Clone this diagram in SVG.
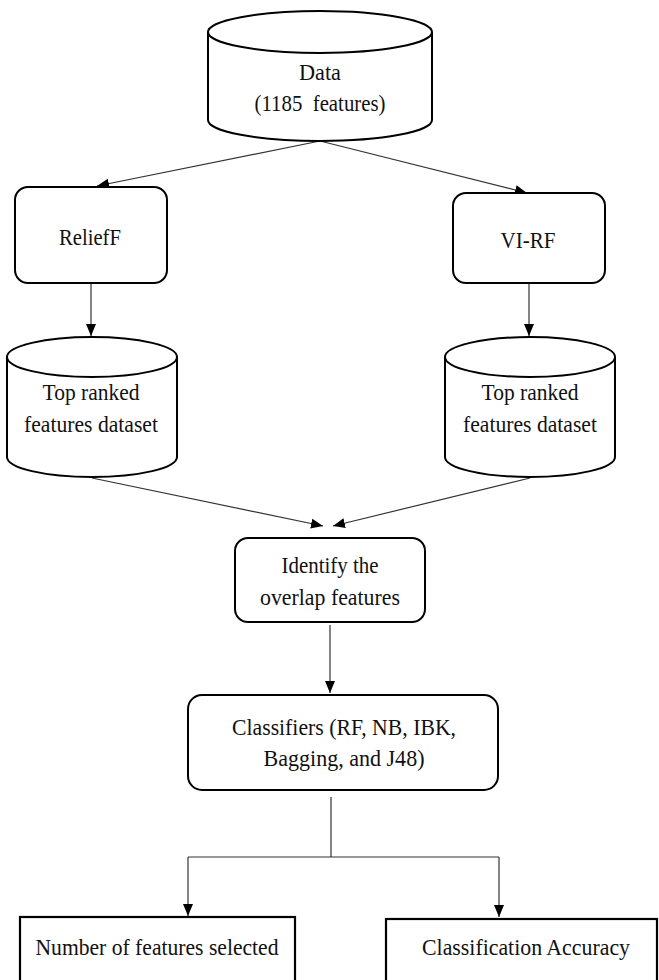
<svg xmlns="http://www.w3.org/2000/svg" width="659" height="980" viewBox="0 0 659 980">
<style>
.shape{fill:#fff;stroke:#000;stroke-width:2}
.box{fill:#fff;stroke:#000;stroke-width:2.2}
.t{font-family:"Liberation Serif","Times New Roman",serif;font-size:23px;fill:#111;text-anchor:middle}
.c{fill:none;stroke:#333;stroke-width:1.2}
</style>
<defs>
<marker id="ah" markerUnits="userSpaceOnUse" markerWidth="12" markerHeight="12" viewBox="0 0 12 12" refX="12" refY="6" orient="auto">
<path d="M0,1 L12,6 L0,11 z" fill="#000"/>
</marker>
</defs>
<rect width="659" height="980" fill="#fff"/>
<g id="connectors">
<line class="c" x1="320" y1="141" x2="97" y2="186" marker-end="url(#ah)"/>
<line class="c" x1="320" y1="141" x2="527" y2="193" marker-end="url(#ah)"/>
<line class="c" x1="91" y1="284" x2="91" y2="336" marker-end="url(#ah)"/>
<line class="c" x1="529" y1="284" x2="529" y2="336" marker-end="url(#ah)"/>
<line class="c" x1="92" y1="478" x2="323" y2="526" marker-end="url(#ah)"/>
<line class="c" x1="530" y1="478" x2="333" y2="526" marker-end="url(#ah)"/>
<line class="c" x1="330" y1="625" x2="330" y2="693" marker-end="url(#ah)"/>
<line class="c" x1="331" y1="797" x2="331" y2="857"/>
<line class="c" x1="188" y1="857" x2="499" y2="857"/>
<line class="c" x1="188" y1="857" x2="188" y2="916" marker-end="url(#ah)"/>
<line class="c" x1="499" y1="857" x2="499" y2="917" marker-end="url(#ah)"/>
</g>
<g id="data">
<path class="shape" d="M208,32 L208,120 A112,21 0 0 0 432,120 L432,32"/>
<ellipse class="shape" cx="320" cy="32" rx="112" ry="21"/>
<text class="t" x="320" y="80" textLength="42" lengthAdjust="spacingAndGlyphs">Data</text>
<text class="t" x="320" y="111" xml:space="preserve" textLength="131" lengthAdjust="spacingAndGlyphs">(1185  features)</text>
</g>
<g id="relieff">
<rect class="shape" x="15" y="187" width="152" height="96" rx="13"/>
<text class="t" x="90" y="245" textLength="62" lengthAdjust="spacingAndGlyphs">ReliefF</text>
</g>
<g id="virf">
<rect class="shape" x="453" y="193" width="152" height="90" rx="13"/>
<text class="t" x="528" y="248" textLength="55" lengthAdjust="spacingAndGlyphs">VI-RF</text>
</g>
<g id="top-left">
<path class="shape" d="M7,357 L7,457 A85,20 0 0 0 177,457 L177,357"/>
<ellipse class="shape" cx="92" cy="357" rx="85" ry="20"/>
<text class="t" x="91" y="400" textLength="97" lengthAdjust="spacingAndGlyphs">Top ranked</text>
<text class="t" x="91" y="432" textLength="134" lengthAdjust="spacingAndGlyphs">features dataset</text>
</g>
<g id="top-right">
<path class="shape" d="M445,357 L445,457 A85,20 0 0 0 615,457 L615,357"/>
<ellipse class="shape" cx="530" cy="357" rx="85" ry="20"/>
<text class="t" x="530" y="400" textLength="97" lengthAdjust="spacingAndGlyphs">Top ranked</text>
<text class="t" x="530" y="432" textLength="134" lengthAdjust="spacingAndGlyphs">features dataset</text>
</g>
<g id="identify">
<rect class="shape" x="235" y="538" width="190" height="84" rx="13"/>
<text class="t" x="330" y="573" textLength="97" lengthAdjust="spacingAndGlyphs">Identify the</text>
<text class="t" x="330" y="605" textLength="140" lengthAdjust="spacingAndGlyphs">overlap features</text>
</g>
<g id="classifiers">
<rect class="shape" x="188" y="695" width="310" height="95" rx="14"/>
<text class="t" x="344" y="735" textLength="224" lengthAdjust="spacingAndGlyphs">Classifiers (RF, NB, IBK,</text>
<text class="t" x="344" y="766" textLength="161" lengthAdjust="spacingAndGlyphs">Bagging, and J48)</text>
</g>
<g id="num-features">
<rect class="box" x="20" y="917" width="275" height="80"/>
<text class="t" x="157" y="955" textLength="243" lengthAdjust="spacingAndGlyphs">Number of features selected</text>
</g>
<g id="accuracy">
<rect class="box" x="386" y="919" width="271" height="80"/>
<text class="t" x="526" y="955" textLength="208" lengthAdjust="spacingAndGlyphs">Classification Accuracy</text>
</g>
</svg>
